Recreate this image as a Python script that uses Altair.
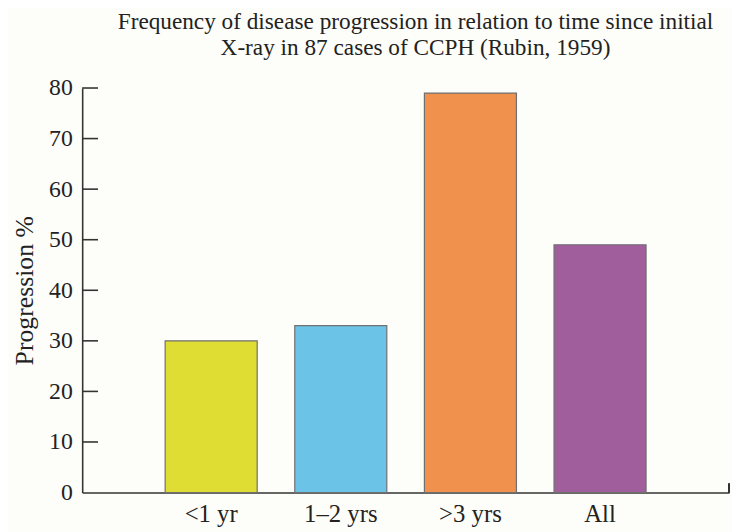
import altair as alt
import pandas as pd

categories = ["<1 yr", "1\u20132 yrs", ">3 yrs", "All"]
values = [30, 33, 79, 49]
colors = ["#DFDC33", "#6BC4E8", "#F0914E", "#A15E9C"]
y_ticks = [10, 20, 30, 40, 50, 60, 70, 80]

bars_df = pd.DataFrame({"group": categories, "pct": values})
ticks_df = pd.DataFrame({"t": y_ticks})

FONT = "Liberation Serif"
W, H = 654, 409

x_enc = alt.X(
    "group:N",
    sort=categories,
    scale=alt.Scale(paddingInner=0.29, paddingOuter=0.64),
    axis=alt.Axis(title=None, ticks=False, labelAngle=0, labelPadding=9,
                  labelFontSize=25, labelFont=FONT, labelColor="#222",
                  domainColor="#333", domainWidth=1.6),
)
y_scale = alt.Scale(domain=[0, 80], nice=False)

bars = alt.Chart(bars_df).mark_bar(stroke="#707070", strokeWidth=1.2).encode(
    x=x_enc,
    y=alt.Y("pct:Q", scale=y_scale,
            axis=alt.Axis(title="Progression %", values=[0] + y_ticks, ticks=False,
                          labelFontSize=24, labelFont=FONT, labelColor="#222",
                          labelPadding=10, titleFont=FONT, titleFontSize=26,
                          titleFontWeight="normal", titleColor="#222", titlePadding=11,
                          domainColor="#333", domainWidth=1.6, grid=False)),
    color=alt.Color("group:N", sort=categories,
                    scale=alt.Scale(domain=categories, range=colors), legend=None),
)

tick_rules = alt.Chart(ticks_df).mark_rule(color="#333", strokeWidth=1.6).encode(
    x=alt.value(0), x2=alt.value(16),
    y=alt.Y("t:Q", scale=y_scale),
)

end_tick = alt.Chart(ticks_df).mark_rule(color="#333", strokeWidth=1.6).encode(
    x=alt.value(W), y=alt.value(H), y2=alt.value(H - 9),
)

chart = alt.layer(bars, tick_rules, end_tick).properties(
    width=W, height=H,
    autosize=alt.AutoSizeParams(type="none"),
    padding={"left": 75, "top": 78, "right": 3, "bottom": 37},
    background="#FDFDF9",
    title=alt.TitleParams(
        ["Frequency of disease progression in relation to time since initial",
         "X-ray in 87 cases of CCPH (Rubin, 1959)"],
        font=FONT, fontSize=23.5, fontWeight="normal", color="#222",
        lineHeight=26, anchor="middle", offset=17, dx=10),
).configure_view(stroke=None).configure_title(font=FONT, fontWeight="normal")

chart.save("out.html", embed_options={"renderer": "svg", "actions": False})
